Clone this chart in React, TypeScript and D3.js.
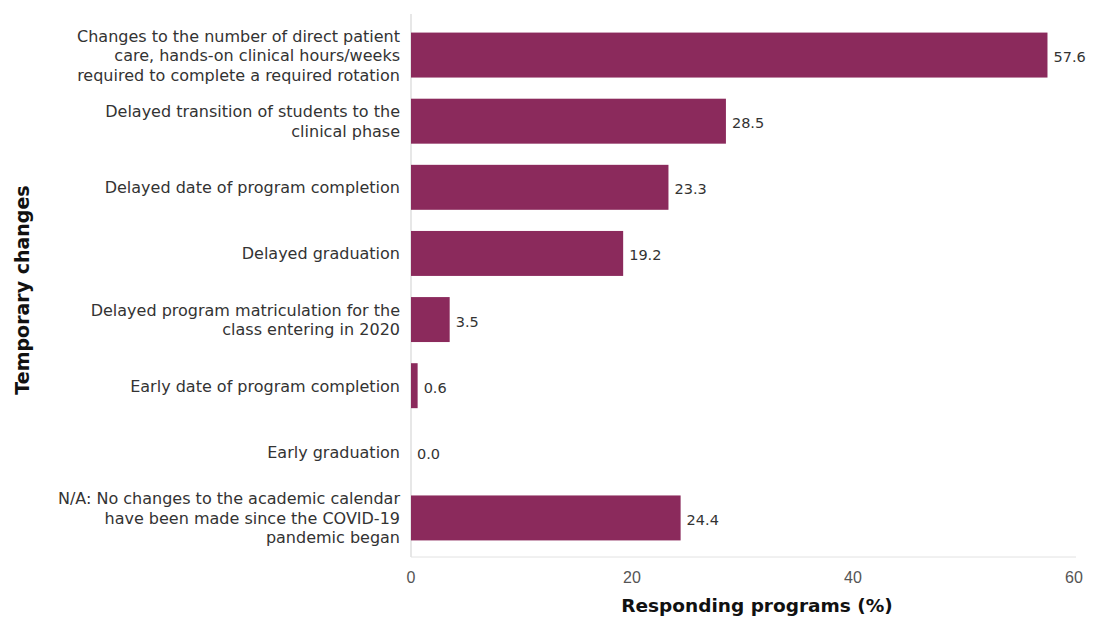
import React from "react";
import * as d3 from "d3";

const categories: string[][] = [
  ["Changes to the number of direct patient", "care, hands-on clinical hours/weeks", "required to complete a required rotation"],
  ["Delayed transition of students to the", "clinical phase"],
  ["Delayed date of program completion"],
  ["Delayed graduation"],
  ["Delayed program matriculation for the", "class entering in 2020"],
  ["Early date of program completion"],
  ["Early graduation"],
  ["N/A: No changes to the academic calendar", "have been made since the COVID-19", "pandemic began"],
];
const values: number[] = [57.6, 28.5, 23.3, 19.2, 3.5, 0.6, 0.0, 24.4];
const xTicks: number[] = [0, 20, 40, 60];

const W = 1103, H = 618;
const left = 411, right = 1074, top = 22, bottom = 551;
const FONT = "'DejaVu Sans', sans-serif";

export default function App() {
  const x = d3.scaleLinear().domain([0, 60]).range([left, right]);
  const y = d3.scaleBand<number>().domain(d3.range(categories.length)).range([top, bottom]).paddingInner(0.32).paddingOuter(0.16);
  return (
    <svg width={W} height={H} style={{ position: "absolute", left: 0, top: 0, background: "#fff" }} fontFamily={FONT}>
      <line x1={left} x2={left} y1={14} y2={557} stroke="#cfcfcf" />
      <line x1={left} x2={right + 2} y1={557} y2={557} stroke="#e2e2e2" />
      {values.map((v, i) => {
        const yy = y(i)!;
        const bw = y.bandwidth();
        const cy = yy + bw / 2;
        const lines = categories[i];
        const lh = 19.5;
        return (
          <g key={i}>
            <rect x={x(0)} y={yy} width={Math.max(0, x(v) - x(0))} height={bw} fill="#8b2a5c" />
            <text x={x(v) + 6} y={cy + 7} fontSize={14.5} fill="#333">{v.toFixed(1)}</text>
            <text x={400} y={cy + 6 - ((lines.length - 1) * lh) / 2} fontSize={16} fill="#333" textAnchor="end">
              {lines.map((l, j) => (
                <tspan key={j} x={400} dy={j === 0 ? 0 : lh}>{l}</tspan>
              ))}
            </text>
          </g>
        );
      })}
      {xTicks.map((t) => (
        <text key={t} x={x(t)} y={583} fontSize={16} fill="#555" textAnchor="middle" fontFamily="'Liberation Sans', sans-serif">{t}</text>
      ))}
      <text x={757} y={612} fontSize={18.5} fontWeight="bold" fill="#111" textAnchor="middle">Responding programs (%)</text>
      <text transform="translate(29,290) rotate(-90)" fontSize={19} fontWeight="bold" fill="#111" textAnchor="middle">Temporary changes</text>
    </svg>
  );
}
